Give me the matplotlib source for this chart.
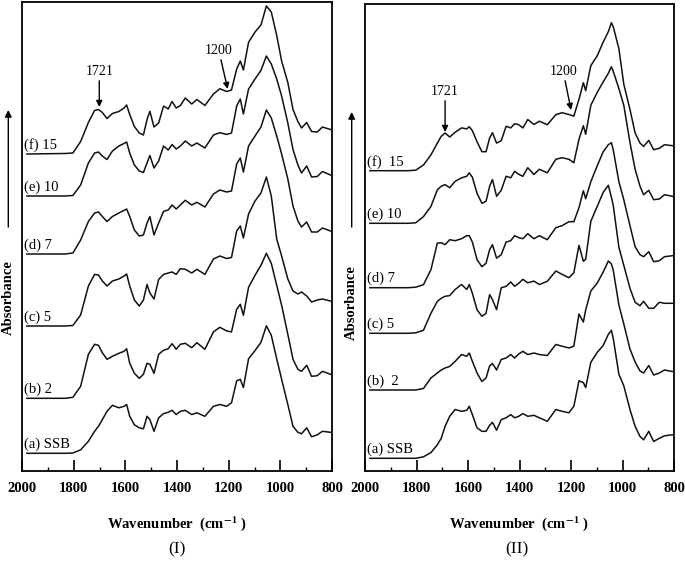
import matplotlib
matplotlib.use('Agg')
import matplotlib.pyplot as plt
from matplotlib.ticker import MultipleLocator

plt.rcParams['font.family'] = ['Liberation Serif', 'DejaVu Serif']
plt.rcParams['mathtext.fontset'] = 'stix'

# wavenumber sample points (cm-1)
wn_I = [1981, 1833, 1803, 1773, 1743, 1719, 1704, 1689, 1671, 1650,
        1625, 1605, 1595, 1583, 1565, 1546, 1530, 1516, 1505, 1489,
        1471, 1452, 1434, 1419, 1403, 1387, 1368, 1343, 1323, 1292,
        1259, 1234, 1208, 1189, 1169, 1155, 1143, 1123, 1098, 1075,
        1054, 1035, 1014, 995, 971, 951, 932, 918, 898, 879,
        857, 837, 806]
wn_II = [1981, 1833, 1803, 1773, 1744, 1719, 1704, 1689, 1671, 1650,
         1625, 1605, 1595, 1583, 1565, 1546, 1530, 1516, 1505, 1489,
         1471, 1452, 1434, 1419, 1403, 1387, 1368, 1344, 1323, 1292,
         1259, 1235, 1208, 1189, 1169, 1152, 1143, 1123, 1098, 1075,
         1055, 1043, 1036, 1014, 995, 971, 951, 932, 918, 898,
         879, 857, 837, 806]

# panel (I): absorbance above each trace's own baseline (a.u.)
I_a = [0, 0, 0.3, 3.5, 12, 22, 27, 33.7, 42, 48, 45.5, 47, 48.8, 37, 28.5,
       25.5, 24.5, 37, 33.7, 22, 35.5, 39.7, 41, 43, 38.7, 42, 43, 38.7, 40.5, 37,
       47, 48.8, 47, 50.5, 72.5, 74, 65.7, 94.5, 102.7, 111, 127.5, 118, 94.5, 74,
       48.8, 27, 21, 19.5, 25.5, 16.5, 18.5, 22, 21]
I_b = [0, 0, 1, 12, 44, 54, 53, 45.5, 39, 42, 45, 47, 49.6, 35, 25,
       20, 24, 35, 34, 25, 44, 48, 49.6, 54.6, 49, 54, 55, 50.6, 55.6, 49,
       66.4, 71, 67.4, 66.4, 89, 94, 83, 111, 123, 133, 145, 135, 113, 93,
       64, 39, 29, 27, 33, 22, 22.6, 27, 24]
I_c = [0, 0, 0.5, 11, 40, 51.6, 51, 45, 40, 45, 47, 50, 52, 40, 26,
       20, 26, 41.5, 33, 27, 46.6, 51.6, 53, 54, 51.6, 57.4, 56.7, 53, 56.7, 51.6,
       67, 70, 67.5, 68.5, 95, 100, 88, 112, 125, 133, 149, 130, 87, 70,
       47, 35, 32, 34, 30, 24, 26, 27, 25]
I_d = [0, 0, 1, 14, 32.5, 41, 42, 37.5, 32.5, 37.5, 41, 43.6, 45, 37.5, 24,
       18, 19, 31, 37.5, 19, 31, 42.6, 44, 49, 45, 49, 53.7, 49, 51.7, 47,
       60, 64, 62, 63, 90, 96, 82, 108, 118, 127, 144, 136, 118, 100,
       75, 48, 33, 27, 32, 22, 22, 26, 23]
I_e = [0, 0, 0.5, 11, 33, 43, 44, 40, 36.5, 45, 50, 52.5, 54, 43, 31,
       25, 23.5, 33, 40.5, 28, 35, 50, 46, 51.5, 47, 50, 55, 50, 53, 48,
       61, 63.3, 61.6, 63, 90, 97, 82, 107, 117, 125.6, 140, 132, 117, 100,
       73, 46.5, 31, 23, 30, 19, 19.5, 24.5, 21]
I_f = [0, 0.5, 1, 12.5, 31.5, 43.5, 44.5, 41.5, 35.5, 40.5, 42.5, 46, 49, 39.5, 27.5,
       21, 19, 34.5, 42.7, 27, 31, 48, 45, 52.5, 46, 48.5, 56, 50, 54.5, 48.5,
       60, 65.3, 62.5, 64, 85, 93, 84, 111.7, 122, 129, 148, 142, 118.5, 93,
       71.5, 44.5, 32.5, 26, 31.5, 22.5, 22, 27, 24.5]

# panel (II)
II_a = [0, 0, 0, 1.5, 5.7, 13.5, 20, 32, 42, 48.8, 47, 48, 52, 43.7, 30.5,
        27, 27, 33, 36, 28, 38.7, 40.5, 43.7, 40.5, 42, 44.7, 42, 43, 40.5, 37,
        48.8, 47, 45.5, 52, 77.5, 75.7, 70.7, 96, 106, 112.8,
        124, 128, 120, 84, 72.5, 48.8, 32, 21.8, 18.5, 27, 16.8, 20, 22.5, 23.5]
II_b = [0, 0, 0, 1.5, 12, 17, 20, 22, 23.6, 28.6, 35.5, 33.7, 37, 28.6, 17,
        8.5, 12, 24, 26.5, 20, 30.5, 32, 35.5, 32, 36, 38.7, 35.5, 37, 35.5, 34.5,
        45.5, 43.8, 42, 43.8, 76, 68, 80, 99, 107, 118,
        129, 126, 120, 85, 66, 41, 28, 19, 17, 24.5, 15, 17, 20, 18.5]
II_c = [0, 0, 0.5, 3, 20, 32, 35, 37, 37.7, 43.8, 48.8, 43.8, 48.8, 40, 23.6,
        17, 20, 38.7, 33.7, 23.6, 45.5, 47, 51.3, 47, 50, 54, 50.5, 52.2, 48.8, 52,
        62.3, 59, 55.6, 60.6, 88, 72, 74, 112, 127, 141,
        148, 136, 128, 86, 68, 45, 31, 27.6, 32, 25, 25, 31, 30, 30]
II_d = [0, 0, 0.5, 3, 18, 44.6, 45, 43, 48, 47, 49, 52, 52, 45.6, 28,
        21, 24.4, 38, 43, 29.5, 33, 45.6, 47, 52, 50, 49, 54, 49, 52, 48,
        60, 62, 66, 66, 80, 97, 89, 106, 122, 136,
        143, 145, 138, 106, 88, 62, 41, 33, 31, 36, 26, 27, 31, 32]
II_e = [0, 0, 0.5, 6.7, 16.8, 33.6, 37, 38.7, 35.6, 42, 45.5, 47, 50.5, 46, 30,
        20, 22, 37, 43.8, 27, 33, 47, 45.5, 52, 49, 47, 55.6, 48.8, 54, 50.5,
        64, 65.6, 64, 60.6, 84, 97.6, 89, 118, 131, 141.4,
        150, 156.6, 152, 134.7, 118, 80.8, 54, 37, 28.6, 33, 23.6, 24.3, 28.6, 27]
II_f = [0, 0, 0.5, 5.7, 15.8, 27.6, 34.4, 37.7, 33.7, 38.4, 42.8, 41.8, 44, 40, 29,
        19, 19, 32.7, 38, 27.6, 30, 44.4, 42.8, 47, 46, 42.8, 51.2, 46.2, 49.5, 46,
        56, 58, 56.2, 54.6, 71.4, 88, 80, 105, 115, 128.6,
        139, 148, 144, 122, 86.5, 61.3, 37.7, 27.6, 24.3, 30.3, 21, 22.4, 26, 25]

# vertical stacking offsets of traces (a..f)
offsets_I = [17.7, 72.7, 145, 217, 275, 317]
offsets_II = [12.7, 81, 137.7, 183.3, 247.7, 300.3]

labels_I = ['(a) SSB', '(b) 2', '(c) 5', '(d) 7', '(e) 10', '(f) 15']
labels_II = ['(a) SSB', '(b)  2', '(c) 5', '(d) 7', '(e) 10', '(f)  15']


def draw_panel(ax, wn, traces, offsets, labels, ytop, notes):
    for y, off, lab in zip(traces, offsets, labels):
        ax.plot(wn, [v + off for v in y], color='#111111', lw=1.1)
        ax.text(1993, off + 9, lab, fontsize=10.5, ha='left', va='center')
    ax.set_xlim(2000, 800)
    ax.set_ylim(0, ytop)
    ax.xaxis.set_major_locator(MultipleLocator(200))
    ax.xaxis.set_minor_locator(MultipleLocator(100))
    ax.tick_params(axis='x', which='major', direction='in', length=8, width=1.2,
                   top=False, pad=8, labelsize=10.5)
    ax.tick_params(axis='x', which='minor', direction='in', length=3, width=1.0, top=False)
    ax.set_yticks([])
    for lbl in ax.get_xticklabels():
        lbl.set_fontweight('bold')
    for s in ax.spines.values():
        s.set_linewidth(1.3)
    for txt, xy, xytext in notes:
        ax.annotate(txt, xy=xy, xytext=xytext, ha='center', va='bottom', fontsize=10,
                    arrowprops=dict(arrowstyle='-|>', color='k', lw=1.0,
                                    mutation_scale=9, shrinkA=0, shrinkB=0))


fig = plt.figure(figsize=(6.85, 5.7), dpi=100)
ax1 = fig.add_axes([22 / 685, 99 / 570, 310 / 685, 469 / 570])
ax2 = fig.add_axes([365 / 685, 99 / 570, 309 / 685, 467 / 570])

draw_panel(ax1, wn_I, [I_a, I_b, I_c, I_d, I_e, I_f], offsets_I, labels_I, 469,
           [('1721', (1701, 364), (1701, 393)), ('1200', (1204, 382), (1238, 414))])
draw_panel(ax2, wn_II, [II_a, II_b, II_c, II_d, II_e, II_f], offsets_II, labels_II, 467,
           [('1721', (1689, 339), (1689, 373)), ('1200', (1200, 361), (1230, 393))])

for ax, xc, ycen, xarr, yarr in [(ax1, 177, 298, 8.3, (227, 110)), (ax2, 519, 303, 351.7, (227, 112))]:
    fig.text(xc / 685, 1 - 524 / 570, r'Wavenumber  (cm$^{\mathbf{-1}}$ )', ha='center',
             va='center', fontsize=10.5, fontweight='bold')
    fig.text(xarr / 685, 1 - ycen / 570, 'Absorbance', rotation=90, ha='center',
             va='center', fontsize=10.5, fontweight='bold')
    ax.annotate('', xy=(xarr / 685, 1 - yarr[1] / 570), xytext=(xarr / 685, 1 - yarr[0] / 570),
                xycoords='figure fraction', textcoords='figure fraction',
                arrowprops=dict(arrowstyle='-|>', color='k', lw=1.0, mutation_scale=10,
                                shrinkA=0, shrinkB=0))

fig.text(177 / 685, 1 - 549 / 570, '(I)', ha='center', va='center', fontsize=12.5)
fig.text(517 / 685, 1 - 549 / 570, '(II)', ha='center', va='center', fontsize=12.5)

fig.savefig('out.png', dpi=100)
